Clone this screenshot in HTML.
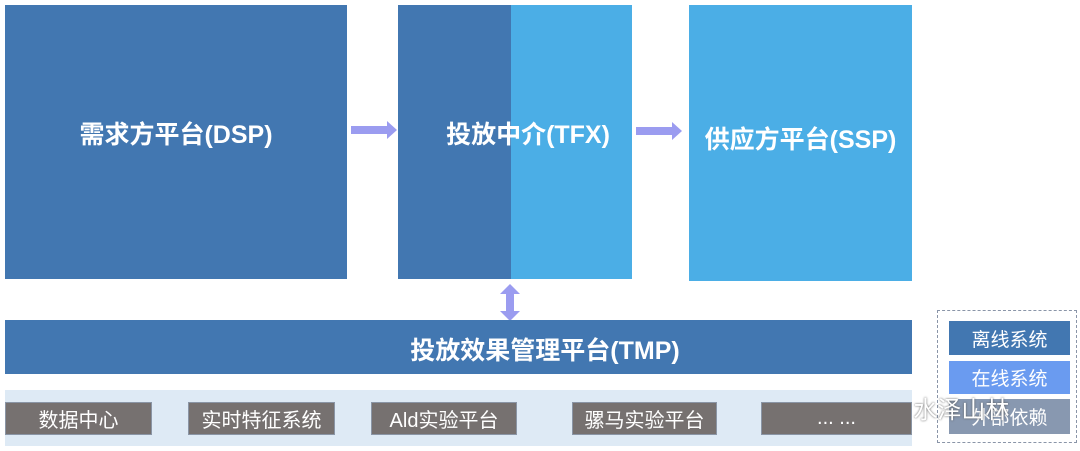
<!DOCTYPE html>
<html><head><meta charset="utf-8"><style>
body{margin:0;width:1080px;height:451px;background:#fff;position:relative;overflow:hidden;font-family:"Liberation Sans","Noto Sans CJK SC",sans-serif}
div{position:absolute;box-sizing:border-box}
.t{color:#fff;font-weight:bold;font-size:25px;display:flex;align-items:center;justify-content:center;white-space:nowrap}
.g{background:#767170;color:#fff;font-size:20px;display:flex;align-items:center;justify-content:center;border:1px solid #8a95a5}
.l{color:#fff;font-size:19px;display:flex;align-items:center;justify-content:center}
</style></head><body>
<div style="left:5px;top:5px;width:342px;height:274px;background:#4277b1"></div>
<div class="t" style="left:5px;top:118px;width:342px;height:30px">需求方平台(DSP)</div>
<div style="left:398px;top:5px;width:113px;height:274px;background:#4277b1"></div>
<div style="left:511px;top:5px;width:121px;height:274px;background:#4baee6"></div>
<div class="t" style="left:428px;top:118px;width:200px;height:30px;">投放中介(TFX)</div>
<div style="left:689px;top:5px;width:223px;height:276px;background:#4baee6"></div>
<div class="t" style="left:689px;top:123px;width:223px;height:30px">供应方平台(SSP)</div>
<svg style="position:absolute;left:0;top:0" width="1080" height="451">
<polygon points="351,126 387,126 387,121 397,130 387,139 387,134 351,134" fill="#9b9cf0"/>
<polygon points="636,127 672,127 672,122 682,131 672,140 672,135 636,135" fill="#9b9cf0"/>
<polygon points="510,284 520,294 514,294 514,311 520,311 510,321 500,311 506,311 506,294 500,294" fill="#9b9cf0"/>
</svg>
<div style="left:5px;top:320px;width:907px;height:54px;background:#4277b1"></div>
<div class="t" style="left:405px;top:320px;width:280px;height:58px;">投放效果管理平台(TMP)</div>
<div style="left:5px;top:390px;width:907px;height:56px;background:#deeaf5"></div>
<div class="g" style="left:5px;top:402px;width:147px;height:33px">数据中心</div>
<div class="g" style="left:188px;top:402px;width:147px;height:33px">实时特征系统</div>
<div class="g" style="left:371px;top:402px;width:146px;height:33px">Ald实验平台</div>
<div class="g" style="left:572px;top:402px;width:145px;height:33px">骡马实验平台</div>
<div class="g" style="left:761px;top:402px;width:151px;height:33px">... ...</div>
<div style="left:937px;top:310px;width:140px;height:133px;border:1px dashed #8a95a8"></div>
<div class="l" style="left:949px;top:321px;width:121px;height:34px;background:#4277b1">离线系统</div>
<div class="l" style="left:949px;top:361px;width:121px;height:33px;background:#6a9bf0">在线系统</div>
<div class="l" style="left:949px;top:399px;width:121px;height:35px;background:#8898b0">外部依赖</div>
<div style="left:880px;top:390px;width:170px;height:30px;color:#fff;font-size:24px;text-shadow:0 0 2px #555">&nbsp;&nbsp;&nbsp;&nbsp;&nbsp;水泽山林</div>
</body></html>
